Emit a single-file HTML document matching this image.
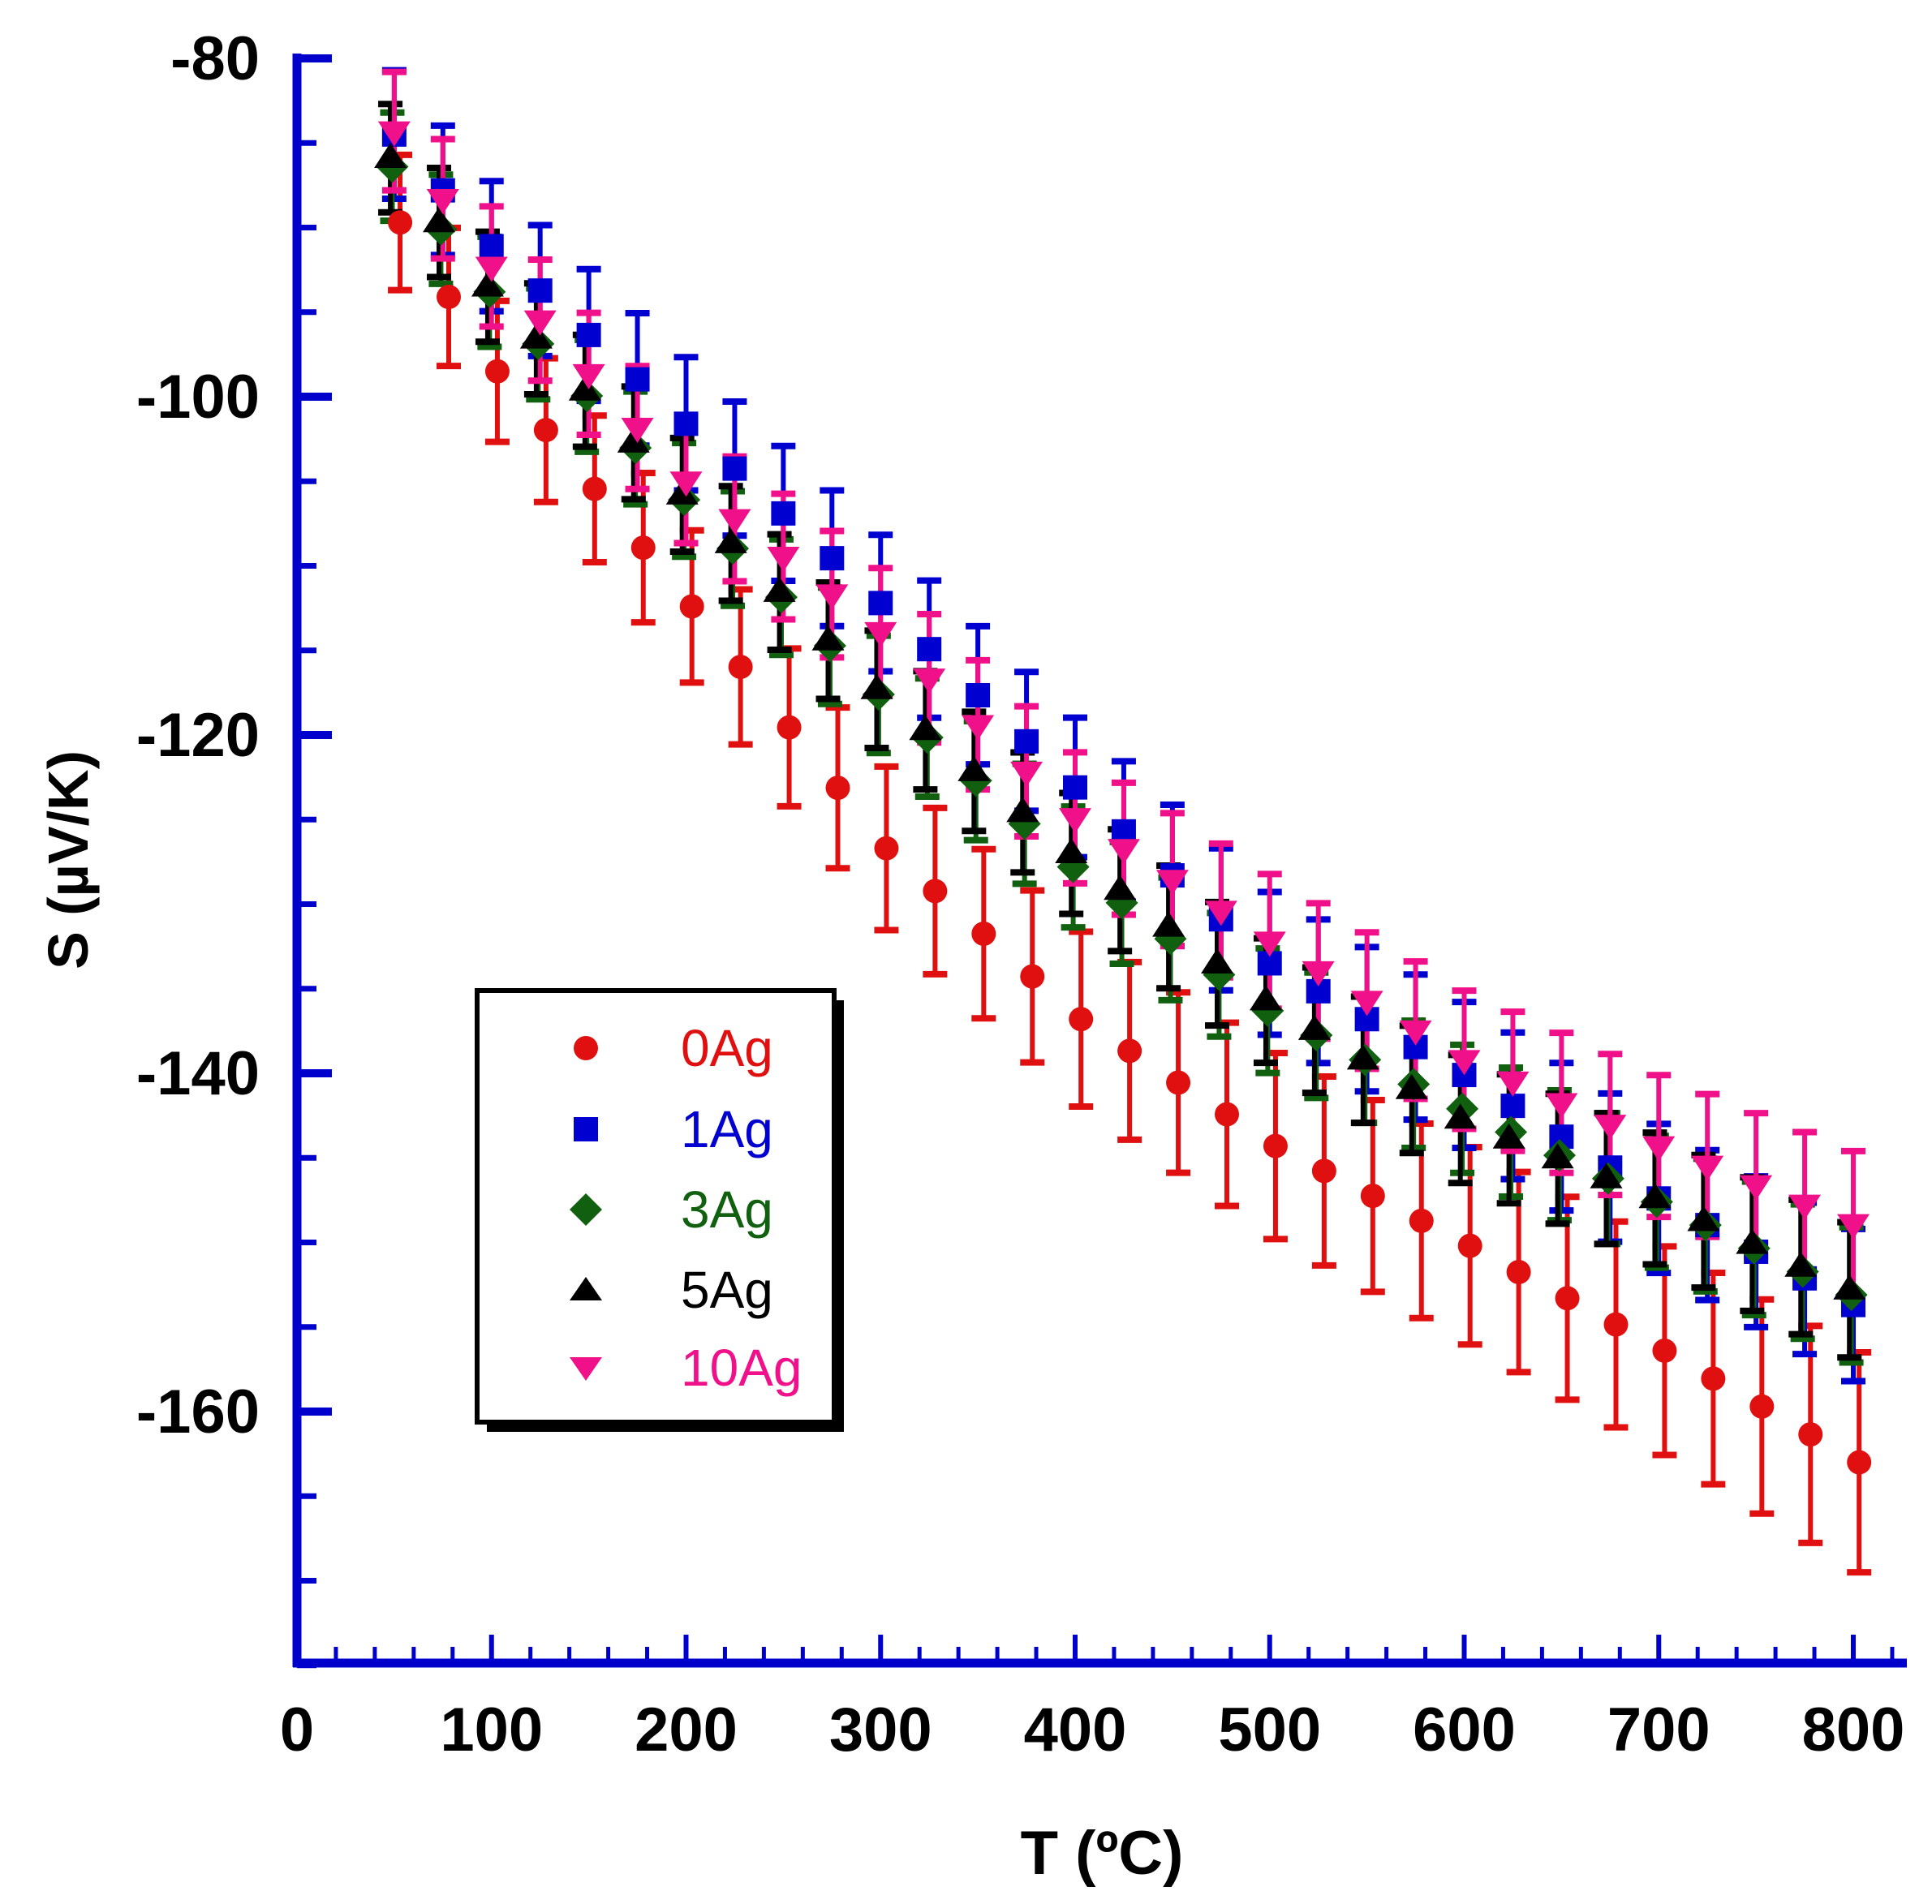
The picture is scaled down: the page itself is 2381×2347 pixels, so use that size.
<!DOCTYPE html>
<html><head><meta charset="utf-8">
<style>
html,body{margin:0;padding:0;background:#fff;}
svg{display:block;}
text{font-family:"Liberation Sans",Arial,sans-serif;}
</style></head>
<body>
<svg id="s" width="2381" height="2347" viewBox="0 0 2381 2347" xmlns="http://www.w3.org/2000/svg">
<g id="axes" stroke="#0000cc" fill="none"></g>
<g id="data"></g>
<g font-weight="bold" font-size="76" fill="#000" text-anchor="end">
<text x="320" y="98">-80</text>
<text x="320" y="515">-100</text>
<text x="320" y="932">-120</text>
<text x="320" y="1349">-140</text>
<text x="320" y="1766">-160</text>
</g>
<g font-weight="bold" font-size="76" fill="#000" text-anchor="middle" id="xl"></g>
<text x="1358" y="2310" font-weight="bold" font-size="76" text-anchor="middle">T (ºC)</text>
<text transform="translate(108,1060) rotate(-90)" font-weight="bold" font-size="70" text-anchor="middle">S (µV/K)</text>
<rect x="600" y="1233" width="440" height="532" fill="#000"/>
<rect x="588" y="1221" width="440" height="532" fill="#fff" stroke="#000" stroke-width="6"/>
<g font-size="64">
<circle cx="722" cy="1292" r="15" fill="#e01010"/>
<text x="839" y="1314" fill="#e01010">0Ag</text>
<rect x="707" y="1377" width="30" height="30" fill="#0000d0"/>
<text x="839" y="1414" fill="#0000d0">1Ag</text>
<polygon points="722,1471 742,1491 722,1511 702,1491" fill="#106010"/>
<text x="839" y="1513" fill="#106010">3Ag</text>
<polygon points="722,1574 742,1603 702,1603" fill="#000"/>
<text x="839" y="1612" fill="#000">5Ag</text>
<polygon points="702,1673 742,1673 722,1702" fill="#f0108a"/>
<text x="839" y="1708" fill="#f0108a">10Ag</text>
</g>
</svg>
<script>
var NS="http://www.w3.org/2000/svg";
function el(p,t,a){var e=document.createElementNS(NS,t);for(var k in a)e.setAttribute(k,a[k]);p.appendChild(e);return e;}
var X=function(t){return 366+2.3975*t;}, Y=function(v){return 72+(-80-v)*20.85;};
var ax=document.getElementById('axes');
el(ax,'line',{x1:366,y1:66,x2:366,y2:2055,'stroke-width':11});
el(ax,'line',{x1:361,y1:2050,x2:2350,y2:2050,'stroke-width':11});
for(var v=-80;v>=-175;v-=5){var maj=(v%20==0);el(ax,'line',{x1:366,y1:Y(v),x2:366+(maj?43:24),y2:Y(v),'stroke-width':maj?10:7});}
for(var t=0;t<=820;t+=20){var maj=(t%100==0);el(ax,'line',{x1:X(t),y1:2050,x2:X(t),y2:2050-(maj?35:20),'stroke-width':maj?6:5});}
var xl=document.getElementById('xl');
for(var t=0;t<=800;t+=100){var e=el(xl,'text',{x:X(t),y:2158});e.textContent=t;}
var anchorsT=[50,100,200,300,400,500,600,700,800];
var S=[
 {c:'#e01010',m:'c',dx:3,v:[-89.7,-98.5,-112.4,-126.7,-136.8,-144.3,-150.2,-156.4,-163],e0:4,e1:6.5},
 {c:'#0000d0',m:'s',dx:0,v:[-84.5,-91.1,-101.6,-112.2,-123.1,-133.5,-140.1,-147.4,-153.7],e0:3.8,e1:4.5},
 {c:'#106010',m:'d',dx:-1,v:[-86.4,-93.8,-106.1,-117.6,-127.8,-136.3,-142.1,-147.6,-153.1],e0:3.2,e1:4},
 {c:'#000000',m:'u',dx:-2,v:[-85.9,-93.5,-105.8,-117.3,-127,-135.7,-142.7,-147.4,-152.8],e0:3.2,e1:4},
 {c:'#f0108a',m:'v',dx:0,v:[-84.3,-92.3,-105,-113.9,-124.9,-132.2,-139.2,-144.3,-148.9],e0:3.5,e1:4.3}
];
function interp(a,t){for(var i=0;i<anchorsT.length-1;i++){if(t<=anchorsT[i+1]){var f=(t-anchorsT[i])/(anchorsT[i+1]-anchorsT[i]);return a[i]+f*(a[i+1]-a[i]);}}return a[a.length-1];}
var d=document.getElementById('data');
var gE=el(d,'g',{}),gM=el(d,'g',{});
S.forEach(function(s){
 for(var t=50;t<=800;t+=25){
  var v=interp(s.v,t), e=s.e0+(t-50)/750*(s.e1-s.e0);
  var x=X(t+s.dx), y1=Y(v+e), y2=Y(v-e);
  el(gE,'line',{x1:x,y1:y1,x2:x,y2:y2,stroke:s.c,'stroke-width':6});
  el(gE,'line',{x1:x-15,y1:y1,x2:x+15,y2:y1,stroke:s.c,'stroke-width':8});
  el(gE,'line',{x1:x-15,y1:y2,x2:x+15,y2:y2,stroke:s.c,'stroke-width':8});
  var y=Y(v);
  if(s.m=='c')el(gM,'circle',{cx:x,cy:y,r:15,fill:s.c});
  else if(s.m=='s')el(gM,'rect',{x:x-15,y:y-15,width:30,height:30,fill:s.c});
  else if(s.m=='d')el(gM,'polygon',{points:[x,y-20,x+20,y,x,y+20,x-20,y].join(','),fill:s.c});
  else if(s.m=='u')el(gM,'polygon',{points:[x,y-19,x+20,y+12,x-20,y+12].join(','),fill:s.c});
  else el(gM,'polygon',{points:[x-20,y-12,x+20,y-12,x,y+19].join(','),fill:s.c});
 }
});
</script>
</body></html>
